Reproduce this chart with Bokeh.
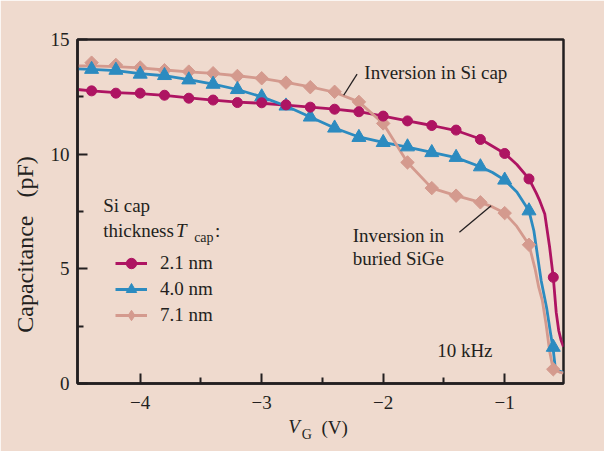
import numpy as np
from bokeh.plotting import figure
from bokeh.models import (Range1d, FixedTicker, CustomJSTickFormatter, Label,
                          Legend, LegendItem, LinearAxis)
from bokeh.embed import file_html
from bokeh.resources import INLINE

BG = "#EFDACE"
INK = "#231F20"
C_MAG = "#AE1462"
C_BLU = "#2C8BC0"
C_PNK = "#D49A8E"
FONT = "Liberation Serif"
NBSP = "\u00a0"

# ---- data ----
series_labels = ["2.1 nm", "4.0 nm", "7.1 nm"]

vg_markers = [-4.4, -4.2, -4.0, -3.8, -3.6, -3.4, -3.2, -3.0, -2.8, -2.6,
              -2.4, -2.2, -2.0, -1.8, -1.6, -1.4, -1.2, -1.0, -0.8, -0.6]
cap_21 = [12.76, 12.66, 12.66, 12.57, 12.44, 12.36, 12.25, 12.24, 12.15, 12.05,
          11.96, 11.85, 11.66, 11.45, 11.25, 11.05, 10.64, 10.03, 8.92, 4.63]
cap_40 = [13.70, 13.66, 13.49, 13.43, 13.24, 13.05, 12.82, 12.50, 12.10, 11.62,
          11.14, 10.73, 10.51, 10.32, 10.07, 9.86, 9.45, 8.87, 7.53, 1.58]
cap_71 = [13.99, 13.89, 13.78, 13.66, 13.60, 13.53, 13.41, 13.31, 13.12, 12.92,
          12.72, 12.28, 11.34, 9.64, 8.52, 8.19, 7.90, 7.43, 6.05, 0.62]

# fitted curves (denser near the steep drop)
vg_fit_21 = [-4.516, -4.4, -4.2, -4.0, -3.8, -3.6, -3.4, -3.2, -3.0, -2.8, -2.6,
             -2.4, -2.2, -2.0, -1.8, -1.6, -1.4, -1.2, -1.0, -0.9, -0.8, -0.74,
             -0.71, -0.67, -0.63, -0.6, -0.576, -0.555, -0.535, -0.516]
cap_fit_21 = [12.82, 12.76, 12.68, 12.64, 12.56, 12.45, 12.36, 12.27, 12.22, 12.14, 12.05,
              11.96, 11.85, 11.66, 11.45, 11.25, 11.03, 10.66, 10.03, 9.55, 8.92, 8.30,
              7.95, 7.39, 5.94, 4.63, 3.10, 2.30, 1.87, 1.60]

vg_fit_40 = [-4.516, -4.4, -4.2, -4.0, -3.8, -3.6, -3.4, -3.2, -3.0, -2.8, -2.6,
             -2.4, -2.2, -2.0, -1.8, -1.6, -1.4, -1.2, -1.1, -1.0, -0.9, -0.8,
             -0.76, -0.74, -0.70, -0.655, -0.62, -0.6, -0.585, -0.565, -0.516]
cap_fit_40 = [13.72, 13.70, 13.64, 13.51, 13.42, 13.25, 13.05, 12.82, 12.50, 12.10, 11.62,
              11.14, 10.75, 10.51, 10.31, 10.08, 9.85, 9.45, 9.20, 8.87, 8.35, 7.53,
              6.66, 5.94, 4.49, 3.30, 2.10, 1.45, 0.75, 0.56, 0.49]

vg_fit_71 = [-4.516, -4.4, -4.2, -4.0, -3.8, -3.6, -3.4, -3.2, -3.0, -2.8, -2.6,
             -2.4, -2.2, -2.0, -1.8, -1.6, -1.4, -1.2, -1.1, -1.0, -0.9, -0.8,
             -0.75, -0.72, -0.69, -0.66, -0.63, -0.61, -0.59, -0.55, -0.516]
cap_fit_71 = [13.85, 13.85, 13.82, 13.76, 13.67, 13.59, 13.52, 13.42, 13.30, 13.13, 12.93,
              12.70, 12.28, 11.34, 9.64, 8.52, 8.19, 7.90, 7.70, 7.43, 6.85, 6.05,
              5.00, 4.20, 3.61, 2.60, 1.40, 0.86, 0.60, 0.50, 0.45]

x_ticks = [-4, -3, -2, -1]
x_minor = [-3.5, -2.5, -1.5]
y_ticks = [0, 5, 10, 15]
y_minor = [2.5, 7.5, 12.5]

# annotation leader lines
lead_x0 = [-2.215, -1.373]
lead_y0 = [13.49, 6.59]
lead_x1 = [-2.325, -1.112]
lead_y1 = [12.57, 7.75]

# ---- figure ----
p = figure(width=604, height=451,
           x_range=Range1d(-4.516, -0.516), y_range=Range1d(0, 15),
           output_backend="svg", toolbar_location=None,
           min_border_left=77, min_border_right=41,
           min_border_top=39, min_border_bottom=68,
           background_fill_color=BG, border_fill_color=BG)
p.xgrid.visible = False
p.ygrid.visible = False
p.outline_line_color = INK
p.outline_line_width = 2.5

p.xaxis.ticker = FixedTicker(ticks=x_ticks, minor_ticks=x_minor)
p.yaxis.ticker = FixedTicker(ticks=y_ticks, minor_ticks=y_minor)
fmt = CustomJSTickFormatter(code="return tick < 0 ? '\u2212' + Math.abs(tick) : String(tick);")
p.xaxis.formatter = fmt
for ax in (p.xaxis, p.yaxis):
    ax.axis_line_color = INK
    ax.axis_line_width = 2.5
    ax.major_tick_line_color = INK
    ax.major_tick_line_width = 2
    ax.minor_tick_line_color = INK
    ax.minor_tick_line_width = 2
    ax.major_tick_in = 10
    ax.major_tick_out = 0
    ax.minor_tick_in = 6
    ax.minor_tick_out = 0
    ax.major_label_text_font = FONT
    ax.major_label_text_font_size = "19px"
    ax.major_label_text_color = INK
    ax.major_label_standoff = 8
p.xaxis.major_label_standoff = 12

# y-axis title (non-breaking spaces keep the wide gap and push it lower)
p.yaxis.axis_label = "Capacitance" + NBSP * 3 + "(pF)" + NBSP * 11
p.yaxis.axis_label_text_font = FONT
p.yaxis.axis_label_text_font_size = "24px"
p.yaxis.axis_label_text_font_style = "normal"
p.yaxis.axis_label_text_color = INK
p.yaxis.axis_label_standoff = 10

# x-axis title: "(V)" as the axis label, "V" and subscript "G" as extra axes
p.xaxis.axis_label = NBSP * 6 + "(V)"
p.xaxis.axis_label_text_font = FONT
p.xaxis.axis_label_text_font_size = "19px"
p.xaxis.axis_label_text_font_style = "normal"
p.xaxis.axis_label_text_color = INK
p.xaxis.axis_label_standoff = 5


def text_axis(pos, txt, size, style, standoff):
    ax = LinearAxis(ticker=FixedTicker(ticks=[pos]),
                    formatter=CustomJSTickFormatter(code="return '%s';" % txt))
    ax.axis_line_color = None
    ax.major_tick_line_color = None
    ax.minor_tick_line_color = None
    ax.major_label_text_font = FONT
    ax.major_label_text_font_size = size
    ax.major_label_text_font_style = style
    ax.major_label_text_color = INK
    ax.major_label_standoff = standoff
    p.add_layout(ax, "below")


text_axis(-2.734, "V", "19px", "italic", -31)
text_axis(-2.628, "G", "14px", "normal", -20)

# curves and markers
l1 = p.line(vg_fit_21, cap_fit_21, line_color=C_MAG, line_width=2.8)
l2 = p.line(vg_fit_40, cap_fit_40, line_color=C_BLU, line_width=2.8)
l3 = p.line(vg_fit_71, cap_fit_71, line_color=C_PNK, line_width=2.8)
s3 = p.scatter(vg_markers, cap_71, marker="square", size=9.5, angle=np.pi / 4,
               fill_color=C_PNK, line_color=C_PNK)
s2 = p.scatter(vg_markers, cap_40, marker="triangle", size=14,
               fill_color=C_BLU, line_color=C_BLU)
s1 = p.scatter(vg_markers, cap_21, marker="circle", size=10,
               fill_color=C_MAG, line_color=C_MAG)
# legend-only diamond key (a single NaN point, never drawn in the plot)
s3_key = p.scatter([np.nan], [np.nan], marker="diamond", fill_color=C_PNK, line_color=C_PNK)

p.segment(x0=lead_x0, y0=lead_y0, x1=lead_x1, y1=lead_y1,
          line_color=INK, line_width=1.3)

legend = Legend(items=[LegendItem(label=series_labels[0], renderers=[l1, s1]),
                       LegendItem(label=series_labels[1], renderers=[l2, s2]),
                       LegendItem(label=series_labels[2], renderers=[l3, s3_key])],
                location=(38, 55), orientation="vertical",
                background_fill_alpha=0, border_line_alpha=0,
                padding=0, margin=0, spacing=0,
                glyph_width=32, glyph_height=26, label_height=26,
                label_standoff=13, label_text_font=FONT,
                label_text_font_size="19px", label_text_color=INK)
p.add_layout(legend)


def lab(x, y, text, size="19px", style="normal"):
    p.add_layout(Label(x=x, y=y, text=text, text_font=FONT, text_font_size=size,
                       text_font_style=style, text_color=INK, text_align="left",
                       text_baseline="middle"))


lab(-2.155, 13.56, "Inversion in Si cap")
lab(-2.251, 6.45, "Inversion in")
lab(-2.251, 5.43, "buried SiGe")
lab(-1.556, 1.44, "10 kHz")
lab(-4.305, 7.75, "Si cap")
lab(-4.305, 6.69, "thickness")
lab(-3.706, 6.69, "T", style="italic")
lab(-3.556, 6.37, "cap", size="14px")
lab(-3.385, 6.69, ":")

open("out.html", "w").write(file_html(p, INLINE))
